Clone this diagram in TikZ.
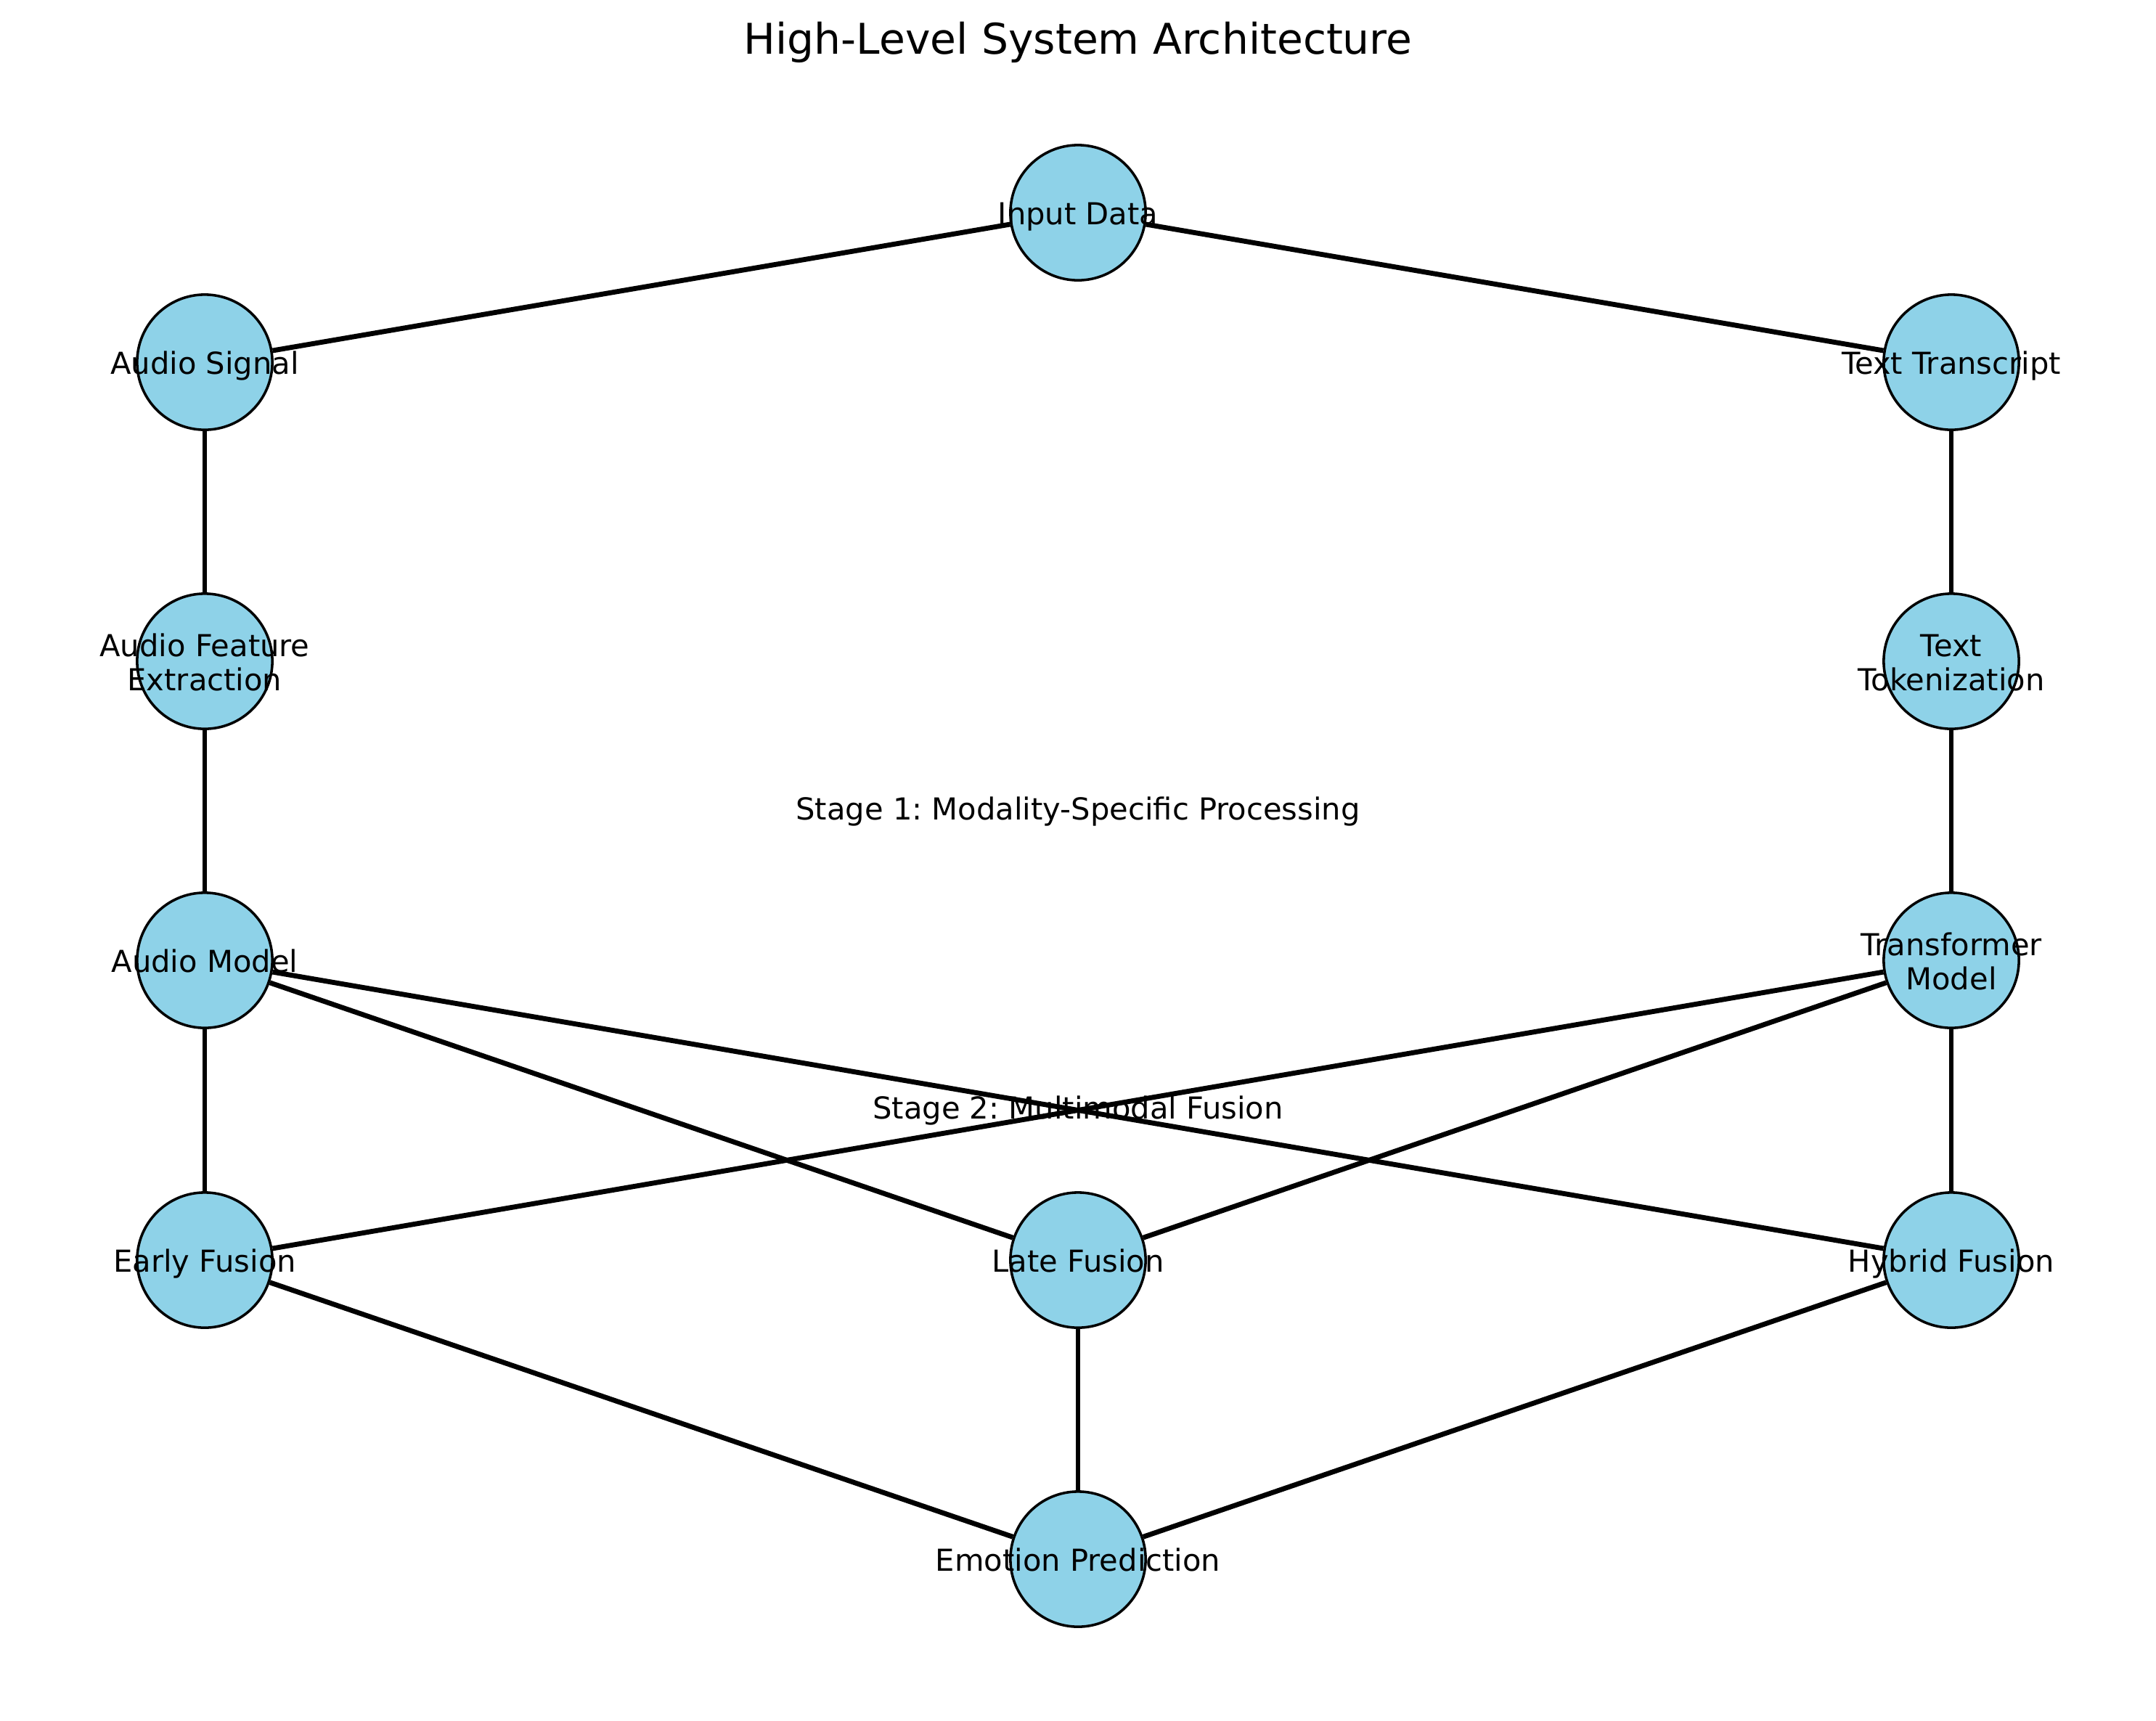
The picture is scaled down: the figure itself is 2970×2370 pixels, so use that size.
\documentclass[tikz,border=0pt]{standalone}
\usepackage{fontspec}
\setmainfont{DejaVu Sans}
\usetikzlibrary{backgrounds}
\definecolor{nodefill}{RGB}{142,210,232}
\tikzset{
  vert/.style={circle, draw=black, line width=0.85bp, fill=nodefill, minimum size=44.7bp, inner sep=0pt},
  lab/.style={font=\fontsize{10bp}{11.28bp}\selectfont, align=center, inner sep=0pt, text=black, yshift=-1.2bp},
  link/.style={line width=1.65bp, draw=black},
  ttl/.style={font=\fontsize{14bp}{16bp}\selectfont, anchor=base, inner sep=0pt},
  stg/.style={font=\fontsize{10bp}{11.28bp}\selectfont, anchor=base, inner sep=0pt},
}
\newcommand\lst{\vphantom{lp}}
\frenchspacing
\begin{document}
\begin{tikzpicture}[x=0.24bp,y=-0.24bp]
\useasboundingbox (0,0) rectangle (2970,2370);
% vertices
\node[vert] (in) at (1485,293) {};
\node[vert] (as) at (282,499) {};
\node[vert] (tt) at (2688,499) {};
\node[vert] (af) at (282,911) {};
\node[vert] (tk) at (2688,911) {};
\node[vert] (am) at (282,1323) {};
\node[vert] (tm) at (2688,1323) {};
\node[vert] (ef) at (282,1736) {};
\node[vert] (lf) at (1485,1736) {};
\node[vert] (hf) at (2688,1736) {};
\node[vert] (ep) at (1485,2148) {};
% edges
\begin{scope}[on background layer]
\fill[white] (0,0) rectangle (2970,2370);
\draw[link] (in) -- (as);
\draw[link] (in) -- (tt);
\draw[link] (as) -- (af);
\draw[link] (af) -- (am);
\draw[link] (tt) -- (tk);
\draw[link] (tk) -- (tm);
\draw[link] (am) -- (ef);
\draw[link] (am) -- (lf);
\draw[link] (am) -- (hf);
\draw[link] (tm) -- (ef);
\draw[link] (tm) -- (lf);
\draw[link] (tm) -- (hf);
\draw[link] (ef) -- (ep);
\draw[link] (lf) -- (ep);
\draw[link] (hf) -- (ep);
\end{scope}
% labels
\node[lab] (in-l) at (in) {\lst Input Data};
\node[lab] (as-l) at (as) {\lst Audio Signal};
\node[lab] (tt-l) at (tt) {\lst Text Transcript};
\node[lab] (af-l) at (af) {\lst Audio Feature\\\lst Extraction};
\node[lab] (tk-l) at (tk) {\lst Text\\\lst Tokenization};
\node[lab] (am-l) at (am) {\lst Audio Model};
\node[lab] (tm-l) at (tm) {\lst Transformer\\\lst Model};
\node[lab] (ef-l) at (ef) {\lst Early Fusion};
\node[lab] (lf-l) at (lf) {\lst Late Fusion};
\node[lab] (hf-l) at (hf) {\lst Hybrid Fusion};
\node[lab] (ep-l) at (ep) {\lst Emotion Prediction};
% title and stage labels
\node[ttl] (title) at (1485,74) {High-Level System Architecture};
\node[stg] (stage1) at (1485,1129) {Stage 1: Modality-Specific Processing};
\node[stg] (stage2) at (1485,1541) {Stage 2: Multimodal Fusion};
\end{tikzpicture}
\end{document}
